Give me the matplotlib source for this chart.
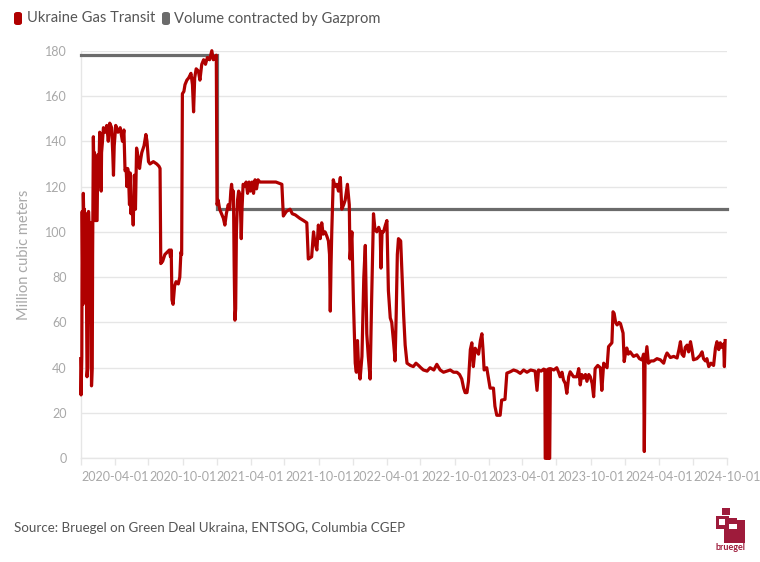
import matplotlib
matplotlib.use("Agg")
import matplotlib.pyplot as plt
from matplotlib.patches import FancyBboxPatch, Rectangle
import pandas as pd

plt.rcParams['font.family'] = ['Lato', 'DejaVu Sans']

# ---- data ----
transit_dates = [
    "2020-01-01", "2020-01-02", "2020-01-04", "2020-01-05", "2020-01-07", "2020-01-08", "2020-01-10",
    "2020-01-11", "2020-01-13", "2020-01-15", "2020-01-18", "2020-01-20", "2020-01-22", "2020-01-24",
    "2020-01-26", "2020-01-28", "2020-01-30", "2020-02-01", "2020-02-02", "2020-02-04", "2020-02-06",
    "2020-02-07", "2020-02-08", "2020-02-14", "2020-02-16", "2020-02-18", "2020-02-21", "2020-02-23",
    "2020-02-25", "2020-02-26", "2020-02-28", "2020-03-02", "2020-03-07", "2020-03-11", "2020-03-15",
    "2020-03-19", "2020-03-24", "2020-03-27", "2020-03-29", "2020-03-31", "2020-04-04", "2020-04-10",
    "2020-04-16", "2020-04-22", "2020-04-26", "2020-04-29", "2020-05-02", "2020-05-04", "2020-05-06",
    "2020-05-08", "2020-05-11", "2020-05-13", "2020-05-15", "2020-05-18", "2020-05-21", "2020-05-24",
    "2020-05-27", "2020-05-30", "2020-06-03", "2020-06-07", "2020-06-10", "2020-06-13", "2020-06-19",
    "2020-06-24", "2020-06-27", "2020-07-01", "2020-07-05", "2020-07-14", "2020-07-23", "2020-07-29",
    "2020-08-01", "2020-08-03", "2020-08-08", "2020-08-14", "2020-08-20", "2020-08-26", "2020-08-29",
    "2020-08-31", "2020-09-02", "2020-09-05", "2020-09-09", "2020-09-13", "2020-09-19", "2020-09-23",
    "2020-09-26", "2020-09-28", "2020-09-30", "2020-10-04", "2020-10-07", "2020-10-12", "2020-10-17",
    "2020-10-23", "2020-10-27", "2020-10-30", "2020-11-02", "2020-11-06", "2020-11-12", "2020-11-16",
    "2020-11-21", "2020-11-26", "2020-12-01", "2020-12-06", "2020-12-12", "2020-12-18", "2020-12-22",
    "2020-12-27", "2020-12-30",
    "2021-01-01", "2021-01-04", "2021-01-08", "2021-01-13", "2021-01-18", "2021-01-22", "2021-01-26",
    "2021-01-31", "2021-02-04", "2021-02-07", "2021-02-09", "2021-02-12", "2021-02-14", "2021-02-16",
    "2021-02-18", "2021-02-20", "2021-02-22", "2021-02-25", "2021-02-28", "2021-03-04", "2021-03-07",
    "2021-03-09", "2021-03-12", "2021-03-16", "2021-03-20", "2021-03-24", "2021-03-28", "2021-04-01",
    "2021-04-05", "2021-04-09", "2021-04-13", "2021-04-17", "2021-04-21", "2021-04-26", "2021-05-06",
    "2021-05-16", "2021-05-23", "2021-06-08", "2021-06-24", "2021-06-28", "2021-07-06", "2021-07-16",
    "2021-07-22", "2021-07-30", "2021-08-11", "2021-08-21", "2021-08-30", "2021-09-03", "2021-09-12",
    "2021-09-17", "2021-09-21", "2021-09-26", "2021-09-30", "2021-10-05", "2021-10-09", "2021-10-13",
    "2021-10-18", "2021-10-23", "2021-10-27", "2021-10-30", "2021-11-01", "2021-11-03", "2021-11-05",
    "2021-11-09", "2021-11-14", "2021-11-19", "2021-11-23", "2021-11-28", "2021-12-02", "2021-12-07",
    "2021-12-11", "2021-12-17", "2021-12-22", "2021-12-24", "2021-12-29",
    "2022-01-02", "2022-01-07", "2022-01-10", "2022-01-13", "2022-01-16", "2022-01-20", "2022-01-25",
    "2022-01-30", "2022-02-03", "2022-02-05", "2022-02-07", "2022-02-11", "2022-02-16", "2022-02-20",
    "2022-02-25", "2022-03-01", "2022-03-06", "2022-03-11", "2022-03-15", "2022-03-17", "2022-03-20",
    "2022-03-24", "2022-03-29", "2022-04-02", "2022-04-06", "2022-04-11", "2022-04-15", "2022-04-20",
    "2022-04-24", "2022-04-27", "2022-04-30", "2022-05-03", "2022-05-09", "2022-05-13", "2022-05-17",
    "2022-05-21", "2022-05-26", "2022-06-04", "2022-06-12", "2022-06-19", "2022-06-26", "2022-07-02",
    "2022-07-09", "2022-07-19", "2022-07-27", "2022-08-06", "2022-08-14", "2022-08-23", "2022-09-01",
    "2022-09-10", "2022-09-19", "2022-09-28", "2022-10-07", "2022-10-14", "2022-10-20", "2022-10-25",
    "2022-10-29", "2022-11-03", "2022-11-07", "2022-11-12", "2022-11-16", "2022-11-20", "2022-11-25",
    "2022-12-04", "2022-12-09", "2022-12-13", "2022-12-16", "2022-12-19", "2022-12-26", "2022-12-30",
    "2023-01-04", "2023-01-13", "2023-01-17", "2023-01-22", "2023-01-31", "2023-02-04", "2023-02-13",
    "2023-02-18", "2023-02-27", "2023-03-08", "2023-03-17", "2023-03-26", "2023-04-04", "2023-04-13",
    "2023-04-23", "2023-05-05", "2023-05-10", "2023-05-14", "2023-05-21", "2023-05-28", "2023-05-31",
    "2023-06-01", "2023-06-03", "2023-06-04", "2023-06-06", "2023-06-07", "2023-06-09", "2023-06-10",
    "2023-06-11", "2023-06-12", "2023-06-13", "2023-06-15", "2023-06-24", "2023-07-02", "2023-07-07",
    "2023-07-11", "2023-07-16", "2023-07-20", "2023-07-25", "2023-07-29", "2023-08-03", "2023-08-07",
    "2023-08-16", "2023-08-25", "2023-08-30", "2023-09-03", "2023-09-07", "2023-09-12", "2023-09-17",
    "2023-09-21", "2023-09-26", "2023-09-30", "2023-10-05", "2023-10-09", "2023-10-13", "2023-10-20",
    "2023-10-27", "2023-10-31", "2023-11-05", "2023-11-09", "2023-11-14", "2023-11-18", "2023-11-27",
    "2023-11-30", "2023-12-03", "2023-12-07", "2023-12-11", "2023-12-16", "2023-12-20", "2023-12-24",
    "2023-12-27", "2023-12-30",
    "2024-01-03", "2024-01-06", "2024-01-10", "2024-01-15", "2024-01-24", "2024-02-02", "2024-02-09",
    "2024-02-16", "2024-02-20", "2024-02-22", "2024-02-24", "2024-02-29", "2024-03-04", "2024-03-11",
    "2024-03-18", "2024-03-27", "2024-04-05", "2024-04-14", "2024-04-19", "2024-04-23", "2024-05-02",
    "2024-05-11", "2024-05-20", "2024-05-25", "2024-05-29", "2024-06-02", "2024-06-07", "2024-06-11",
    "2024-06-16", "2024-06-20", "2024-06-25", "2024-06-29", "2024-07-03", "2024-07-12", "2024-07-21",
    "2024-07-26", "2024-07-30", "2024-08-04", "2024-08-08", "2024-08-13", "2024-08-19", "2024-08-26",
    "2024-08-31", "2024-09-04", "2024-09-09", "2024-09-13", "2024-09-17", "2024-09-22", "2024-09-24",
    "2024-09-26",
]
transit_values = [
    44, 28, 45, 109, 68, 117, 100,
    110, 70, 108, 36, 40, 109, 100,
    60, 104, 32, 40, 90, 142, 120,
    135, 105, 105, 134, 120, 144, 130,
    118, 135, 139, 146, 144, 147, 140,
    148, 146, 135, 125, 138, 147, 144,
    146, 140, 145, 127, 128, 120, 128,
    126, 112, 126, 108, 115, 103, 125,
    110, 137, 133, 128, 132, 135, 138,
    143, 140, 131, 130, 131, 130, 129,
    128, 86, 87, 90, 91, 92, 89,
    92, 70, 68, 76, 78, 77, 80,
    91, 90, 161, 162, 165, 167, 168,
    170, 165, 153, 168, 172, 171, 167,
    174, 176, 174, 177, 176, 180, 176,
    177, 178,
    112, 114, 110, 108, 106, 103, 108,
    112, 110, 118, 121, 116, 118, 85,
    61, 66, 100, 114, 118, 116, 97,
    110, 121, 120, 122, 117, 122, 118,
    122, 117, 123, 119, 123, 122, 122,
    122, 122, 122, 121, 107, 109, 110,
    108, 107.5, 106, 105, 104, 88, 89,
    100, 95, 92, 103, 97, 104, 99,
    100, 98, 96, 90, 65, 85, 100,
    123, 120, 121, 118, 124, 110, 112,
    114, 121, 112, 88, 100,
    70, 42, 38, 52, 40, 35, 45,
    80, 94, 75, 55, 45, 35, 70,
    108, 101, 100, 102, 100, 84, 100,
    100, 103, 105, 74, 62, 60, 51,
    43, 64, 90, 97, 96, 80, 63,
    50, 42, 41, 40.5, 42, 41, 40,
    39, 38.5, 40, 39, 41.5, 39, 38,
    38.5, 39, 38, 38, 37, 35, 31,
    29, 29, 34, 48, 51, 40.5, 48.6,
    46, 52, 55, 48, 39, 40, 36,
    31, 31, 23, 19, 19, 25.7, 26,
    37.6, 38.2, 39, 38.5, 37.5, 39, 38,
    39, 38.5, 30, 39, 38.5, 39.4, 39,
    0, 0, 39, 39, 0, 0, 39.5,
    39, 0, 0, 39.6, 39, 40, 38,
    36, 38, 34.6, 33, 28.7, 36, 38.2,
    36, 36, 39.6, 32.4, 37, 35.4, 37,
    34, 37, 36, 33, 27.2, 39.6, 41,
    40, 30, 42, 41, 40, 49.3, 51,
    64.7, 64, 60, 58.9, 60, 59.5, 57,
    55.3, 42.7,
    47, 48.7, 46, 47, 45, 45.7, 44,
    43.4, 46, 3, 42, 49.3, 42, 43,
    43, 44, 43.5, 42, 45, 46.5, 44.5,
    45, 44.3, 48, 51.5, 46, 45, 49,
    50, 47, 51.5, 48, 43.5, 44, 45.5,
    47, 44, 43, 44, 40.5, 42, 41,
    48.7, 51.5, 48, 51, 49, 50.5, 40.5,
    52,
]

gazprom_dates = ["2020-01-01", "2021-01-01", "2021-01-01", "2024-09-30"]
gazprom_values = [178, 178, 110, 110]

series_names = ["Ukraine Gas Transit", "Volume contracted by Gazprom"]
y_ticks = [0, 20, 40, 60, 80, 100, 120, 140, 160, 180]
y_label = "Million cubic meters"
source_text = "Source: Bruegel on Green Deal Ukraina, ENTSOG, Columbia CGEP"

RED = "#b00000"
GREY = "#6b6b6b"
GRID = "#e6e6e6"
TICKTXT = "#a8a8a8"

W, H = 760, 562
fig = plt.figure(figsize=(W / 100, H / 100), dpi=100)
fig.patch.set_facecolor("white")

left, right, top, bottom = 80.7, 727, 50.7, 458.3
ax = fig.add_axes([left / W, 1 - bottom / H, (right - left) / W, (bottom - top) / H])

td = pd.to_datetime(transit_dates)
gd = pd.to_datetime(gazprom_dates)
ax.plot(gd, gazprom_values, color=GREY, lw=2.3, solid_joinstyle="miter", zorder=3, clip_on=False)
ax.plot(td, transit_values, color=RED, lw=2.3, solid_joinstyle="round", zorder=4, clip_on=False)

ax.set_xlim(pd.Timestamp("2020-01-01"), pd.Timestamp("2024-10-01"))
ax.set_ylim(0, 180)
ax.set_yticks(y_ticks)
ax.set_yticklabels([str(v) for v in y_ticks])
ax.yaxis.grid(True, color=GRID, lw=1)
ax.set_axisbelow(True)

quarters = pd.date_range("2020-01-01", "2024-10-01", freq="QS")
ax.set_xticks(quarters)
ax.set_xticklabels([q.strftime("%Y-%m-%d") if q.month in (4, 10) else "" for q in quarters])

for s in ["top", "right"]:
    ax.spines[s].set_visible(False)
for s in ["left", "bottom"]:
    ax.spines[s].set_color(GRID)
    ax.spines[s].set_linewidth(1)

ax.tick_params(axis="x", colors=GRID, length=5, width=1, pad=4, labelsize=9, labelcolor=TICKTXT)
ax.tick_params(axis="y", length=0, pad=10, labelsize=9, labelcolor=TICKTXT)
ax.set_ylabel(y_label, color=TICKTXT, fontsize=10.5, labelpad=10)

# legend
fig.patches.append(FancyBboxPatch((14 / W, 1 - 25 / H), 8 / W, 13 / H, boxstyle="round,pad=0,rounding_size=0.004",
                                  transform=fig.transFigure, facecolor=RED, edgecolor="none"))
fig.text(27 / W, 1 - 18.5 / H, series_names[0], color="#555555", fontsize=10.6, va="center", ha="left")
fig.patches.append(FancyBboxPatch((162 / W, 1 - 25 / H), 8 / W, 13 / H, boxstyle="round,pad=0,rounding_size=0.004",
                                  transform=fig.transFigure, facecolor=GREY, edgecolor="none"))
fig.text(174 / W, 1 - 18.5 / H, series_names[1], color="#555555", fontsize=10.6, va="center", ha="left")

# source
fig.text(14 / W, 1 - 528 / H, source_text, color="#555555", fontsize=9.6, va="center", ha="left")

# logo
LOGO = "#9e1b3b"
def px_rect(x0, y0, w, h, c):
    fig.patches.append(Rectangle((x0 / W, 1 - (y0 + h) / H), w / W, h / H, transform=fig.transFigure,
                                 facecolor=c, edgecolor="none"))
px_rect(722, 508, 8, 7, LOGO)
px_rect(716, 516, 13, 13, LOGO)
px_rect(729, 518, 8, 6, LOGO)
px_rect(719, 519, 6, 6, "white")
px_rect(724, 529, 21, 14, LOGO)
px_rect(737, 520, 8, 10, LOGO)
fig.text(731 / W, 1 - 548 / H, "bruegel", color=LOGO, fontsize=6.5, fontweight="bold", ha="center", va="center")

fig.savefig("out.png", dpi=100, facecolor="white")
